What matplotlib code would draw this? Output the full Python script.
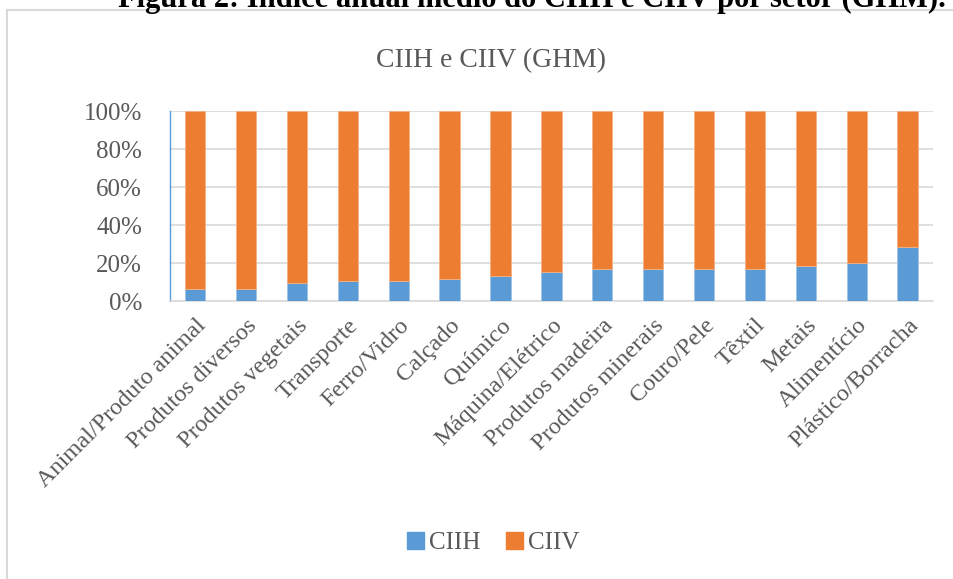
import numpy as np
import matplotlib.pyplot as plt
from matplotlib.lines import Line2D
from matplotlib.patches import Patch
from matplotlib.ticker import PercentFormatter

setores = ['Animal/Produto animal', 'Produtos diversos', 'Produtos vegetais',
           'Transporte', 'Ferro/Vidro', 'Calçado', 'Químico', 'Máquina/Elétrico',
           'Produtos madeira', 'Produtos minerais', 'Couro/Pele', 'Têxtil',
           'Metais', 'Alimentício', 'Plástico/Borracha']
ciih = [6.2, 6.2, 9.4, 10.4, 10.4, 11.5, 13.1, 15.2, 16.8, 16.8, 16.8, 17.1, 18.7, 20.3, 28.4]
ciiv = [100 - v for v in ciih]

azul = '#5b9bd5'
laranja = '#ed7d31'
cinza = '#595959'
plt.rcParams['font.family'] = ['Liberation Serif', 'DejaVu Serif']

fig = plt.figure(figsize=(9.54, 5.79), dpi=100)
ax = fig.add_axes([0.178, 0.480, 0.800, 0.328])

x = np.arange(len(setores))
ax.bar(x, ciih, width=0.4, color=azul, edgecolor='#9dc3e6', linewidth=0.6, zorder=3)
ax.bar(x, ciiv, width=0.4, bottom=ciih, color=laranja, edgecolor='#f4b183', linewidth=0.6, zorder=3)

ax.set_xlim(-0.5, len(setores) - 0.5)
ax.set_ylim(0, 100)
ax.set_yticks(np.arange(0, 101, 20))
ax.yaxis.set_major_formatter(PercentFormatter(decimals=0))
ax.grid(axis='y', color='#d9d9d9', linewidth=1.2, zorder=0)
for s in ['top', 'right']:
    ax.spines[s].set_visible(False)
ax.spines['left'].set_color(azul)
ax.spines['left'].set_linewidth(1.0)
ax.spines['bottom'].set_color('#d9d9d9')
ax.spines['bottom'].set_linewidth(1.2)
ax.tick_params(length=0, colors=cinza, labelsize=18)
ax.tick_params(axis='x', pad=10)
ax.tick_params(axis='y', pad=20)
ax.set_xticks(x)
ax.set_xticklabels(setores, rotation=45, ha='right', rotation_mode='anchor', fontsize=17.5, color=cinza)

fig.text(0.515, 0.895, 'CIIH e CIIV (GHM)', ha='center', va='center', fontsize=20, color=cinza)
fig.text(0.558, 1 - 7 / 579, 'Figura 2: Índice anual médio do CIIH e CIIV por setor (GHM).',
         ha='center', va='baseline', fontsize=22, fontweight='bold', color='black')

# moldura do gráfico
fig.add_artist(Line2D([7 / 954, 1.0], [1 - 10 / 579, 1 - 10 / 579], color='#d9d9d9', linewidth=1.5))
fig.add_artist(Line2D([7 / 954, 7 / 954], [0, 1 - 10 / 579], color='#d9d9d9', linewidth=1.5))

handles = [Patch(color=azul), Patch(color=laranja)]
fig.legend(handles, ['CIIH', 'CIIV'], loc='center', bbox_to_anchor=(0.517, 0.062), ncol=2,
           frameon=False, fontsize=18, labelcolor=cinza, handlelength=0.7, handleheight=0.7,
           handletextpad=0.2, columnspacing=1.0)

fig.savefig('out.png', dpi=100)
